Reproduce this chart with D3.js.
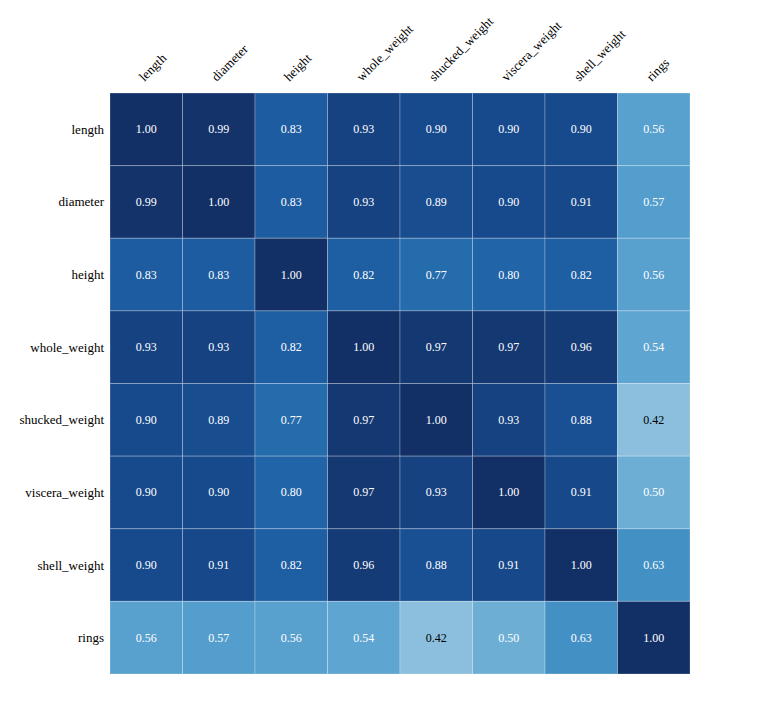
<!DOCTYPE html>
<html>
<head>
<meta charset="utf-8">
<script src="https://cdn.jsdelivr.net/npm/d3@7"></script>
<style>
  body { margin: 0; background: #fff; }
  svg text { font-family: "Liberation Serif", "DejaVu Serif", serif; }
</style>
</head>
<body>
<svg id="Heatmap"></svg>
<script>
let variables = ["length", "diameter", "height", "whole_weight", "shucked_weight", "viscera_weight", "shell_weight", "rings"];

let corrLength   = [1.00, 0.99, 0.83, 0.93, 0.90, 0.90, 0.90, 0.56];
let corrDiameter = [0.99, 1.00, 0.83, 0.93, 0.89, 0.90, 0.91, 0.57];
let corrHeight   = [0.83, 0.83, 1.00, 0.82, 0.77, 0.80, 0.82, 0.56];
let corrWhole    = [0.93, 0.93, 0.82, 1.00, 0.97, 0.97, 0.96, 0.54];
let corrShucked  = [0.90, 0.89, 0.77, 0.97, 1.00, 0.93, 0.88, 0.42];
let corrViscera  = [0.90, 0.90, 0.80, 0.97, 0.93, 1.00, 0.91, 0.50];
let corrShell    = [0.90, 0.91, 0.82, 0.96, 0.88, 0.91, 1.00, 0.63];
let corrRings    = [0.56, 0.57, 0.56, 0.54, 0.42, 0.50, 0.63, 1.00];

let matrix = [corrLength, corrDiameter, corrHeight, corrWhole, corrShucked, corrViscera, corrShell, corrRings];

function getConfig() {
  let width = 770;
  let height = 704;
  let margin = { top: 93, left: 110, right: 80, bottom: 30 };
  let bodyWidth = width - margin.left - margin.right;
  let bodyHeight = 674 - margin.top;
  let container = d3.select("#Heatmap")
    .attr("width", width)
    .attr("height", height);
  return { width, height, margin, bodyWidth, bodyHeight, container };
}

function getScales(config) {
  let xScale = d3.scaleBand().domain(variables).range([0, config.bodyWidth]);
  let yScale = d3.scaleBand().domain(variables).range([0, config.bodyHeight]);
  let color = v => {
    let c = d3.hcl(d3.interpolateBlues(v));
    c.c *= 1 - 0.08 * Math.max(0, (v - 0.6) / 0.4);
    return c.formatHex();
  };
  return { xScale, yScale, color };
}

function drawCells(config, scales) {
  let { margin, container } = config;
  let { xScale, yScale, color } = scales;

  let cellData = [];
  matrix.forEach((row, i) => {
    row.forEach((v, j) => {
      cellData.push({ row: variables[i], col: variables[j], value: v });
    });
  });

  let body = container.append("g")
    .attr("transform", `translate(${margin.left},${margin.top})`);

  body.selectAll(".cell")
    .data(cellData)
    .enter()
    .append("rect")
    .attr("class", "cell")
    .attr("x", d => xScale(d.col))
    .attr("y", d => yScale(d.row))
    .attr("width", xScale.bandwidth())
    .attr("height", yScale.bandwidth())
    .attr("fill", d => color(d.value))
    .attr("stroke", "rgba(255,255,255,0.25)")
    .attr("stroke-width", 1);

  body.selectAll(".val")
    .data(cellData)
    .enter()
    .append("text")
    .attr("x", d => xScale(d.col) + xScale.bandwidth() / 2)
    .attr("y", d => yScale(d.row) + yScale.bandwidth() / 2)
    .attr("text-anchor", "middle")
    .attr("dominant-baseline", "central")
    .attr("font-size", 12)
    .attr("fill", d => d.value < 0.45 ? "#000" : "#fff")
    .text(d => d.value.toFixed(2));
}

function drawLabels(config, scales) {
  let { margin, container } = config;
  let { xScale, yScale } = scales;

  container.append("g")
    .selectAll("text")
    .data(variables)
    .enter()
    .append("text")
    .attr("x", margin.left - 6)
    .attr("y", d => margin.top + yScale(d) + yScale.bandwidth() / 2)
    .attr("text-anchor", "end")
    .attr("dominant-baseline", "central")
    .attr("font-size", 13)
    .attr("fill", "#000")
    .text(d => d);

  container.append("g")
    .selectAll("text")
    .data(variables)
    .enter()
    .append("text")
    .attr("transform", d => `translate(${margin.left + xScale(d) + xScale.bandwidth() / 2 - 2},${margin.top - 11}) rotate(-45)`)
    .attr("text-anchor", "start")
    .attr("font-size", 13)
    .attr("fill", "#000")
    .text(d => d);
}

let config = getConfig();
let scales = getScales(config);
drawCells(config, scales);
drawLabels(config, scales);
</script>
</body>
</html>
